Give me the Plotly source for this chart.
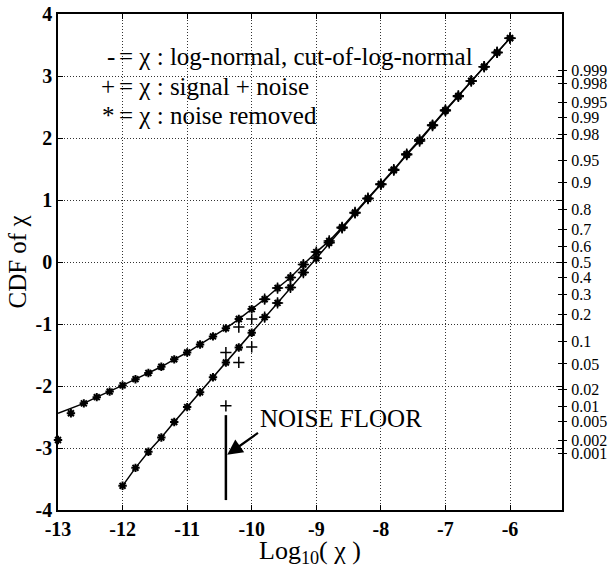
import math
import plotly.graph_objects as go

# log10(chi) sample positions
x_lognormal = [-12.0, -11.8, -11.6, -11.4, -11.2, -11.0, -10.8, -10.6, -10.4, -10.2,
               -10.0, -9.8, -9.6, -9.4, -9.2, -9.0, -8.8, -8.6, -8.4, -8.2,
               -8.0, -7.8, -7.6, -7.4, -7.2, -7.0, -6.8, -6.6, -6.4, -6.2, -6.0]
y_lognormal = [-3.61, -3.32, -3.06, -2.83, -2.58, -2.34, -2.10, -1.86, -1.62, -1.38,
               -1.14, -0.89, -0.66, -0.41, -0.17, 0.06, 0.31, 0.55, 0.79, 1.02,
               1.25, 1.48, 1.73, 1.95, 2.20, 2.44, 2.67, 2.92, 3.15, 3.38, 3.61]

x_cutoff = [-13.0, -12.8, -12.6, -12.4, -12.2, -12.0, -11.8, -11.6, -11.4, -11.2,
            -11.0, -10.8, -10.6, -10.4, -10.2, -10.0, -9.8, -9.6, -9.4, -9.2,
            -9.0, -8.8, -8.6, -8.4, -8.2, -8.0, -7.8, -7.6, -7.4, -7.2,
            -7.0, -6.8, -6.6, -6.4, -6.2, -6.0]
y_cutoff = [-2.44, -2.36, -2.28, -2.18, -2.09, -1.99, -1.89, -1.79, -1.69, -1.57,
            -1.46, -1.33, -1.20, -1.07, -0.92, -0.76, -0.60, -0.42, -0.25, -0.04,
            0.16, 0.34, 0.56, 0.80, 1.03, 1.26, 1.49, 1.74, 1.97, 2.21,
            2.45, 2.68, 2.92, 3.15, 3.38, 3.61]

# noise-removed samples of the cut-off distribution (two lowest fall off the curve)
x_removed_cut = [-13.0, -12.8, -12.6, -12.4, -12.2, -12.0, -11.8, -11.6, -11.4, -11.2,
                 -11.0, -10.8, -10.6, -10.4, -10.2, -10.0, -9.8, -9.6, -9.4, -9.2,
                 -9.0, -8.8, -8.6, -8.4, -8.2, -8.0, -7.8, -7.6, -7.4, -7.2,
                 -7.0, -6.8, -6.6, -6.4, -6.2, -6.0]
y_removed_cut = [-2.87, -2.44, -2.28, -2.18, -2.09, -1.99, -1.89, -1.79, -1.69, -1.57,
                 -1.46, -1.33, -1.20, -1.07, -0.92, -0.76, -0.60, -0.42, -0.25, -0.04,
                 0.16, 0.34, 0.56, 0.80, 1.03, 1.26, 1.49, 1.74, 1.97, 2.21,
                 2.45, 2.68, 2.92, 3.15, 3.38, 3.61]

# signal + noise samples (only above the noise floor)
x_noisy = [-10.4, -10.2, -10.0, -9.8, -9.6, -9.4, -9.2, -9.0, -8.8, -8.6,
           -8.4, -8.2, -8.0, -7.8, -7.6, -7.4, -7.2, -7.0, -6.8, -6.6, -6.4, -6.2, -6.0]
y_noisy_lognormal = [-2.32, -1.62, -1.37, -0.89, -0.66, -0.41, -0.17, 0.06, 0.31, 0.55,
                     0.79, 1.02, 1.25, 1.48, 1.73, 1.95, 2.20, 2.44, 2.67, 2.92, 3.15, 3.38, 3.61]
y_noisy_cutoff = [-1.46, -1.05, -0.92, -0.60, -0.42, -0.25, -0.04, 0.16, 0.34, 0.56,
                  0.80, 1.03, 1.26, 1.49, 1.74, 1.97, 2.21, 2.45, 2.68, 2.92, 3.15, 3.38, 3.61]

noise_floor_x = -10.4
noise_floor_y = [-2.47, -3.84]

x_ticks = [-13, -12, -11, -10, -9, -8, -7, -6]
y_ticks = [-4, -3, -2, -1, 0, 1, 2, 3, 4]
prob_ticks = ["0.999", "0.998", "0.995", "0.99", "0.98", "0.95", "0.9", "0.8", "0.7",
              "0.6", "0.5", "0.4", "0.3", "0.2", "0.1", "0.05", "0.02", "0.01",
              "0.005", "0.002", "0.001"]


def norm_ppf(p):
    """Inverse of the standard normal CDF by bisection."""
    lo, hi = -8.0, 8.0
    for _ in range(80):
        mid = 0.5 * (lo + hi)
        if 0.5 * (1.0 + math.erf(mid / math.sqrt(2.0))) < p:
            lo = mid
        else:
            hi = mid
    return 0.5 * (lo + hi)


prob_vals = [norm_ppf(float(p)) for p in prob_ticks]

SERIF = "Liberation Serif"
INK = "black"
GRID = "#333333"

fig = go.Figure()

line_style = dict(color=INK, width=1.5)
fig.add_trace(go.Scatter(x=x_lognormal, y=y_lognormal, mode="lines", line=line_style,
                         hoverinfo="skip"))
fig.add_trace(go.Scatter(x=x_cutoff, y=y_cutoff, mode="lines", line=line_style,
                         hoverinfo="skip"))

star = dict(symbol="asterisk-open", size=7, color=INK, line=dict(color=INK, width=2))
fig.add_trace(go.Scatter(x=x_lognormal, y=y_lognormal, mode="markers", marker=star))
fig.add_trace(go.Scatter(x=x_removed_cut, y=y_removed_cut, mode="markers", marker=star,
                         cliponaxis=False))

plus = dict(symbol="cross-thin-open", size=8, color=INK, line=dict(color=INK, width=1.5))
fig.add_trace(go.Scatter(x=x_noisy, y=y_noisy_lognormal, mode="markers", marker=plus))
fig.add_trace(go.Scatter(x=x_noisy, y=y_noisy_cutoff, mode="markers", marker=plus))

# noise floor marker
fig.add_trace(go.Scatter(x=[noise_floor_x, noise_floor_x], y=noise_floor_y, mode="lines",
                         line=dict(color=INK, width=2.5), hoverinfo="skip"))

# probability scale on the right
fig.add_trace(go.Scatter(x=[None], y=[None], yaxis="y2", showlegend=False))
fig.add_trace(go.Scatter(x=[None], y=[None], yaxis="y3", showlegend=False))

annotations = [
    dict(x=-10.38, y=-3.11, ax=-9.88, ay=-2.74, xref="x", yref="y", axref="x", ayref="y",
         text="", showarrow=True, arrowhead=2, arrowsize=1.4, arrowwidth=2.2,
         arrowcolor=INK, standoff=0),
    dict(x=-9.91, y=-2.52, xref="x", yref="y", text="NOISE FLOOR", showarrow=False,
         xanchor="left", yanchor="middle", font=dict(family=SERIF, size=25, color=INK)),
]

key_rows = [("-", "= χ : log-normal, cut-of-log-normal", 3.31),
            ("+", "= χ : signal + noise", 2.83),
            ("*", "= χ : noise removed", 2.37)]
for sym, label, yy in key_rows:
    annotations.append(dict(x=-12.09, y=yy, xref="x", yref="y", text=sym, showarrow=False,
                            xanchor="right", yanchor="middle",
                            font=dict(family=SERIF, size=25, color=INK)))
    annotations.append(dict(x=-12.09, y=yy, xref="x", yref="y", text=label, showarrow=False,
                            xanchor="left", yanchor="middle",
                            font=dict(family=SERIF, size=25, color=INK)))

tick_font = dict(family=SERIF, size=20, color=INK, weight="bold")

fig.update_layout(
    width=612, height=568,
    margin=dict(l=58, r=50, t=14, b=58, autoexpand=False),
    paper_bgcolor="white", plot_bgcolor="white",
    showlegend=False,
    annotations=annotations,
    xaxis=dict(
        range=[-13, -5.195], tickvals=x_ticks, ticktext=[str(v) for v in x_ticks],
        ticks="inside", ticklen=5, tickwidth=1, tickcolor=INK,
        showline=True, linecolor=INK, linewidth=1.5, mirror="ticks",
        showgrid=True, gridcolor=GRID, gridwidth=1, griddash="1px,2px",
        zeroline=False, tickfont=tick_font, automargin=False,
        title=dict(text="Log<sub>10</sub>( χ )", font=dict(family=SERIF, size=26, color=INK),
                   standoff=4),
    ),
    yaxis=dict(
        range=[-4, 4], tickvals=y_ticks, ticktext=[str(v) for v in y_ticks],
        ticks="inside", ticklen=5, tickwidth=1, tickcolor=INK,
        showline=True, linecolor=INK, linewidth=1.5, mirror="ticks",
        showgrid=True, gridcolor=GRID, gridwidth=1, griddash="1px,2px",
        zeroline=False, tickfont=tick_font, automargin=False,
        title=dict(text="CDF of χ", font=dict(family=SERIF, size=25, color=INK), standoff=2),
    ),
    yaxis2=dict(
        range=[-4, 4], overlaying="y", side="right", anchor="x",
        tickvals=prob_vals, ticktext=prob_ticks,
        ticks="outside", ticklen=4, tickwidth=1, tickcolor=INK,
        showgrid=False, zeroline=False, showline=False, automargin=False,
        tickfont=dict(family=SERIF, size=16, color=INK), ticklabelstandoff=1,
    ),
    yaxis3=dict(
        range=[-4, 4], overlaying="y", side="right", anchor="x",
        tickvals=prob_vals, showticklabels=False,
        ticks="inside", ticklen=4, tickwidth=1, tickcolor=INK,
        showgrid=False, zeroline=False, showline=False, automargin=False,
    ),
)

fig.write_html("out.html")
